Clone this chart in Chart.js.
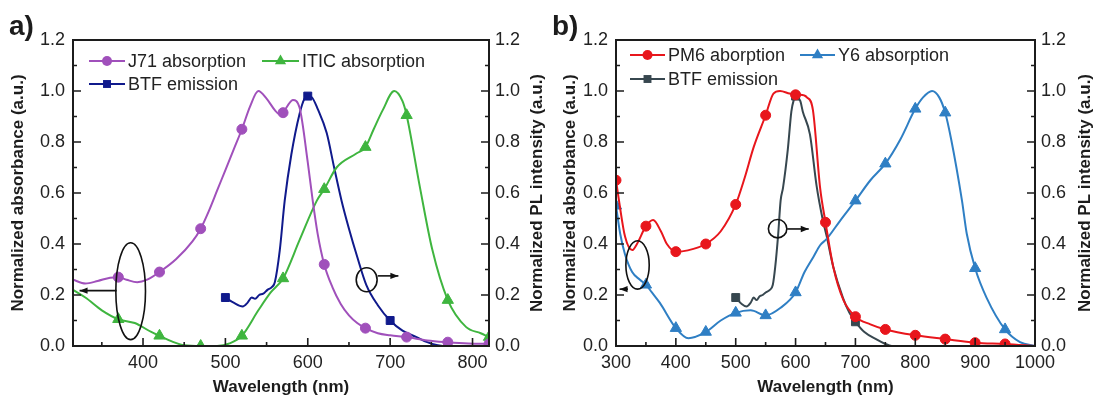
<!DOCTYPE html>
<html><head><meta charset="utf-8">
<script src="https://cdn.jsdelivr.net/npm/chart.js@4.4.0/dist/chart.umd.min.js"></script>
<style>
html,body{margin:0;padding:0;background:#fff;}
body{width:1097px;height:398px;overflow:hidden;position:relative;}
canvas{position:absolute;top:0;}
</style></head>
<body>
<canvas id="ca" width="548" height="398" style="left:0px"></canvas>
<canvas id="cb" width="549" height="398" style="left:548px"></canvas>
<script>
// ---------- Panel a data ----------
const aJ71Wl  = [315,330,345,360,370,380,393,405,420,440,460,470,480,490,500,510,520,530,540,550,560,565,570,576,582,590,600,606,612,620,630,640,650,660,670,685,700,720,745,770,795,820];
const aJ71Abs = [0.26,0.245,0.255,0.268,0.27,0.26,0.25,0.26,0.29,0.34,0.41,0.46,0.53,0.61,0.69,0.77,0.85,0.94,1.0,0.97,0.925,0.91,0.915,0.945,0.965,0.935,0.72,0.57,0.44,0.32,0.23,0.165,0.12,0.09,0.07,0.05,0.042,0.035,0.022,0.015,0.01,0.008];
const aJ71Marks = [370,420,470,520,570,620,670,720,770,820];

const aITICWl  = [315,330,350,370,390,410,420,435,450,470,490,505,520,540,555,570,590,611,620,635,659,670,680,691,705,715,720,736,751,770,792,810,820];
const aITICAbs = [0.22,0.19,0.14,0.105,0.09,0.055,0.04,0.018,0.003,0.0,0.0,0.01,0.04,0.14,0.21,0.265,0.415,0.57,0.615,0.70,0.755,0.78,0.85,0.925,1.0,0.96,0.905,0.625,0.38,0.18,0.075,0.05,0.035];
const aITICMarks = [370,420,470,520,570,620,670,720,770,820];

const aBTFWl = [500,510,521,527,532,536,541,546,551,556,560,566,572,580,590,596,600,605,612,623,632,641,650,660,671,685,700,715,732,745,755,765];
const aBTFPL = [0.19,0.17,0.155,0.17,0.19,0.185,0.2,0.205,0.22,0.23,0.25,0.375,0.57,0.75,0.91,0.97,0.98,0.975,0.93,0.835,0.7,0.57,0.46,0.35,0.24,0.16,0.10,0.06,0.035,0.015,0.005,0.0];
const aBTFMarks = [500,600,700];

// ---------- Panel b data ----------
const bPM6Wl  = [300,305,315,327,335,350,362,375,385,400,420,450,475,500,515,530,550,563,574,590,600,608,619,629,641,650,663,680,700,725,750,800,850,900,950,1000];
const bPM6Abs = [0.65,0.57,0.43,0.376,0.40,0.47,0.494,0.45,0.40,0.37,0.375,0.40,0.45,0.555,0.66,0.78,0.905,0.99,1.0,0.99,0.985,0.985,0.975,0.925,0.62,0.485,0.31,0.18,0.115,0.085,0.065,0.042,0.027,0.013,0.008,0.0];
const bPM6Marks = [300,350,400,450,500,550,600,650,700,750,800,850,900,950];

const bY6Wl  = [300,307,315,327,340,350,360,373,400,421,450,475,500,525,550,575,600,615,630,641,652,674,700,725,750,775,800,813,828,840,850,860,878,886,900,919,950,975,1000];
const bY6Abs = [0.55,0.44,0.36,0.29,0.26,0.24,0.21,0.17,0.07,0.03,0.055,0.10,0.13,0.14,0.12,0.15,0.21,0.29,0.35,0.395,0.42,0.49,0.57,0.65,0.715,0.81,0.93,0.975,1.0,0.975,0.915,0.81,0.57,0.44,0.305,0.19,0.065,0.015,0.0];
const bY6Marks = [300,350,400,450,500,550,600,650,700,750,800,850,900,950];

const bBTFWl = [500,510,518,525,530,535,540,545,550,557,562,566,571,575,579,587,593,597,600,603,608,612,624,635,645,652,663,679,690,700,715,736,750,760];
const bBTFPL = [0.19,0.165,0.155,0.17,0.19,0.18,0.195,0.2,0.21,0.22,0.24,0.31,0.44,0.57,0.62,0.77,0.92,0.965,0.98,0.975,0.96,0.92,0.83,0.63,0.5,0.43,0.31,0.19,0.13,0.095,0.055,0.025,0.008,0.0];
const bBTFMarks = [500,600,700];

// tick label sets
const yTickValues = [0,0.2,0.4,0.6,0.8,1.0,1.2];
const aXTicks = [400,500,600,700,800];
const bXTicks = [300,400,500,600,700,800,900,1000];

// ---------- helpers ----------
const FONT = "'Liberation Sans', Arial, Helvetica, sans-serif";
function pts(xs, ys){ return xs.map((x,i)=>({x:x, y:ys[i]})); }
function ds(label, xs, ys, marks, color, style, r, axis){
  return {
    label, data: pts(xs,ys), yAxisID: axis||'y',
    borderColor: color, backgroundColor: color, borderWidth: 2,
    cubicInterpolationMode: 'monotone', fill:false,
    pointStyle: style,
    pointRadius: c => (c.raw && marks.includes(c.raw.x)) ? r : 0,
    pointHoverRadius: 0, pointBorderWidth: 1,
    pointBackgroundColor: color, pointBorderColor: color
  };
}
function drawMarker(ctx, style, x, y, r, color){
  ctx.save(); ctx.fillStyle=color; ctx.strokeStyle=color; ctx.beginPath();
  if(style==='circle'){ ctx.arc(x,y,r,0,Math.PI*2); }
  else if(style==='rect'){ const s=r*Math.SQRT1_2; ctx.rect(x-s,y-s,2*s,2*s); }
  else if(style==='triangle'){ ctx.moveTo(x, y-r); ctx.lineTo(x+r*Math.sin(Math.PI/3), y+r*0.5); ctx.lineTo(x-r*Math.sin(Math.PI/3), y+r*0.5); ctx.closePath(); }
  ctx.fill(); ctx.restore();
}
function arrow(ctx, x0, y0, x1, y1){
  ctx.beginPath(); ctx.moveTo(x0,y0); ctx.lineTo(x1,y1); ctx.stroke();
  const ang=Math.atan2(y1-y0,x1-x0), L=8, W=3.2;
  ctx.beginPath(); ctx.moveTo(x1,y1);
  ctx.lineTo(x1-L*Math.cos(ang)+W*Math.sin(ang), y1-L*Math.sin(ang)-W*Math.cos(ang));
  ctx.lineTo(x1-L*Math.cos(ang)-W*Math.sin(ang), y1-L*Math.sin(ang)+W*Math.cos(ang));
  ctx.closePath(); ctx.fill();
}

function decor(cfg){
  return { id:'decor', afterDraw(chart){
    const {ctx, chartArea:ca, scales} = chart; const xs=scales.x, ys=scales.y;
    ctx.save();
    const ink='#1c1c1c';
    // frame
    ctx.strokeStyle=ink; ctx.lineWidth=2;
    ctx.strokeRect(ca.left, ca.top, ca.right-ca.left, ca.bottom-ca.top);
    // x ticks (inward)
    ctx.lineWidth=1.6;
    ctx.beginPath();
    cfg.xTicks.forEach(v=>{ const p=xs.getPixelForValue(v); ctx.moveTo(p,ca.bottom); ctx.lineTo(p,ca.bottom-8); });
    cfg.xTicks.forEach(v=>{ const m=v+50; if(m>xs.min && m<xs.max){ const p=xs.getPixelForValue(m); ctx.moveTo(p,ca.bottom); ctx.lineTo(p,ca.bottom-4);} });
    { const m=cfg.xTicks[0]-50; if(m>xs.min){ const p=xs.getPixelForValue(m); ctx.moveTo(p,ca.bottom); ctx.lineTo(p,ca.bottom-4);} }
    // y ticks both sides
    yTickValues.forEach(v=>{ const p=ys.getPixelForValue(v);
      ctx.moveTo(ca.left,p); ctx.lineTo(ca.left+8,p); ctx.moveTo(ca.right,p); ctx.lineTo(ca.right-8,p);
      const m=v+0.1; if(m<1.2){ const q=ys.getPixelForValue(m); ctx.moveTo(ca.left,q); ctx.lineTo(ca.left+4,q); ctx.moveTo(ca.right,q); ctx.lineTo(ca.right-4,q);} });
    ctx.stroke();
    // axis titles
    ctx.fillStyle=ink; ctx.font='bold 17px '+FONT; ctx.textAlign='center'; ctx.textBaseline='middle';
    const cy=(ca.top+ca.bottom)/2;
    [[cfg.leftTitleX,cfg.leftTitle],[cfg.rightTitleX,cfg.rightTitle]].forEach(([x,t])=>{
      ctx.save(); ctx.translate(x,cy); ctx.rotate(-Math.PI/2); ctx.fillText(t,0,0); ctx.restore(); });
    ctx.fillText(cfg.xTitle,(ca.left+ca.right)/2,cfg.xTitleY);
    // panel label
    ctx.font='bold 28px '+FONT; ctx.textAlign='left'; ctx.textBaseline='alphabetic';
    ctx.fillText(cfg.panel, cfg.panelX, 35);
    // legend
    ctx.font='18px '+FONT; ctx.textBaseline='middle';
    cfg.legend.forEach(it=>{
      const d=chart.data.datasets[it.ds];
      ctx.strokeStyle=d.borderColor; ctx.lineWidth=2;
      ctx.beginPath(); ctx.moveTo(it.x0,it.y); ctx.lineTo(it.x1,it.y); ctx.stroke();
      drawMarker(ctx, d.pointStyle, (it.x0+it.x1)/2, it.y, it.r, d.borderColor);
      ctx.fillStyle='#222'; ctx.fillText(d.label, it.x1+3, it.y+1);
    });
    // annotations
    ctx.strokeStyle='#111'; ctx.fillStyle='#111'; ctx.lineWidth=1.6;
    cfg.ellipses.forEach(e=>{
      const cx=xs.getPixelForValue(e.cx), cyy=ys.getPixelForValue(e.cy);
      const rx=Math.abs(xs.getPixelForValue(e.cx+e.rx)-cx), ry=Math.abs(ys.getPixelForValue(e.cy+e.ry)-cyy);
      ctx.beginPath(); ctx.ellipse(cx,cyy,rx,ry,0,0,Math.PI*2); ctx.stroke();
    });
    cfg.arrows.forEach(a=>{
      arrow(ctx, xs.getPixelForValue(a.x0), ys.getPixelForValue(a.y), xs.getPixelForValue(a.x1), ys.getPixelForValue(a.y));
    });
    ctx.restore();
  }};
}

function makeChart(id, datasets, xmin, xmax, xTicks, layout, cfg){
  return new Chart(document.getElementById(id), {
    type:'line',
    data:{ datasets },
    options:{
      responsive:false, animation:false, devicePixelRatio:1,
      layout:{ padding:{ top:layout.top, left:0, right:0, bottom:0 } },
      plugins:{ legend:{display:false}, tooltip:{enabled:false} },
      scales:{
        x:{ type:'linear', min:xmin, max:xmax,
            afterBuildTicks: s=>{ s.ticks = xTicks.map(v=>({value:v})); },
            afterFit: s=>{ s.height = layout.bottomH; },
            grid:{display:false, drawTicks:false}, border:{display:false},
            ticks:{ font:{family:FONT, size:18}, color:'#222', padding:6, maxRotation:0, autoSkip:false, callback:v=>String(Math.round(v)) } },
        y:{ position:'left', min:0, max:1.2,
            afterBuildTicks: s=>{ s.ticks = yTickValues.map(v=>({value:v})); },
            afterFit: s=>{ s.width = layout.leftW; },
            grid:{display:false, drawTicks:false}, border:{display:false},
            ticks:{ font:{family:FONT, size:18}, color:'#222', padding:8, callback:v=>Number(v).toFixed(1) } },
        y2:{ position:'right', min:0, max:1.2,
            afterBuildTicks: s=>{ s.ticks = yTickValues.map(v=>({value:v})); },
            afterFit: s=>{ s.width = layout.rightW; },
            grid:{display:false, drawTicks:false}, border:{display:false},
            ticks:{ font:{family:FONT, size:18}, color:'#222', padding:6, callback:v=>Number(v).toFixed(1) } }
      }
    },
    plugins:[decor(Object.assign({xTicks}, cfg))]
  });
}

// ---------- Panel a ----------
makeChart('ca', [
  ds('J71 absorption', aJ71Wl, aJ71Abs, aJ71Marks, '#a050bb', 'circle', 5),
  ds('ITIC absorption', aITICWl, aITICAbs, aITICMarks, '#3fb53f', 'triangle', 6.5),
  ds('BTF emission', aBTFWl, aBTFPL, aBTFMarks, '#101a8c', 'rect', 5.6, 'y2')
], 315, 820, aXTicks, {top:40, bottomH:52, leftW:73, rightW:59}, {
  panel:'a)', panelX:9, leftTitle:'Normalized absorbance (a.u.)', rightTitle:'Normalized PL intensity (a.u.)',
  leftTitleX:18, rightTitleX:537, xTitle:'Wavelength (nm)', xTitleY:387,
  legend:[ {ds:0, x0:89, x1:125, y:61, r:5}, {ds:1, x0:262, x1:299, y:61, r:6.5}, {ds:2, x0:89, x1:125, y:84, r:5.6} ],
  ellipses:[ {cx:385, cy:0.215, rx:18, ry:0.19}, {cx:671.5, cy:0.26, rx:12.7, ry:0.047} ],
  arrows:[ {x0:368, x1:323, y:0.217}, {x0:685, x1:710, y:0.275} ]
});

// ---------- Panel b ----------
makeChart('cb', [
  ds('PM6 aborption', bPM6Wl, bPM6Abs, bPM6Marks, '#e8161c', 'circle', 5),
  ds('Y6 absorption', bY6Wl, bY6Abs, bY6Marks, '#2f7fc4', 'triangle', 6.5),
  ds('BTF emission', bBTFWl, bBTFPL, bBTFMarks, '#37474f', 'rect', 5.6, 'y2')
], 300, 1000, bXTicks, {top:40, bottomH:52, leftW:68, rightW:62}, {
  panel:'b)', panelX:4, leftTitle:'Normalized absorbance (a.u.)', rightTitle:'Normalized PL intensity (a.u.)',
  leftTitleX:22, rightTitleX:537, xTitle:'Wavelength (nm)', xTitleY:387,
  legend:[ {ds:0, x0:82, x1:117, y:55, r:5}, {ds:1, x0:252, x1:287, y:55, r:6.5}, {ds:2, x0:82, x1:117, y:79, r:5.6} ],
  ellipses:[ {cx:336, cy:0.318, rx:19.5, ry:0.095}, {cx:570, cy:0.46, rx:15.4, ry:0.036} ],
  arrows:[ {x0:320, x1:306, y:0.223}, {x0:586, x1:622, y:0.459} ]
});
</script>
</body></html>
